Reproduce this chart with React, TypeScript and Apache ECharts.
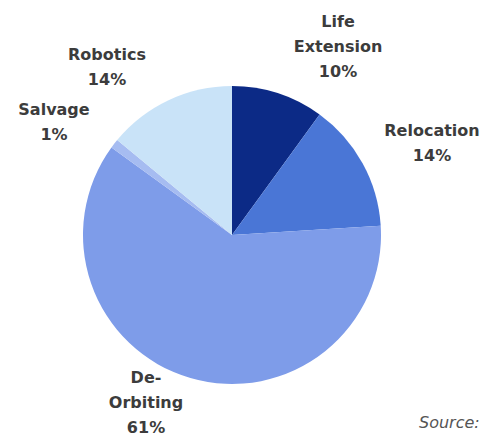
import React, { useEffect, useRef } from "react";
import * as echarts from "echarts";

const categories = ["Life Extension", "Relocation", "De-Orbiting", "Salvage", "Robotics"];
const shares = [10, 14, 61, 1, 14];
const labelLines = ["Life\nExtension\n10%", "Relocation\n14%", "De-\nOrbiting\n61%", "Salvage\n1%", "Robotics\n14%"];

// layout (label anchor centers), kept apart from the data
const labelAnchors: [number, number][] = [
  [338, 46],
  [432, 143],
  [146, 402],
  [54, 122],
  [107, 67],
];
const colors = ["#0c2a86", "#4a76d6", "#7e9ce9", "#a6bcf1", "#c9e3f8"];

export default function App() {
  const ref = useRef<HTMLDivElement>(null);
  useEffect(() => {
    if (!ref.current) return;
    const chart = echarts.init(ref.current, undefined, { renderer: "svg" });
    chart.setOption({
      animation: false,
      backgroundColor: "#ffffff",
      series: [
        {
          type: "pie",
          center: [232, 235],
          radius: 149,
          startAngle: 90,
          clockwise: true,
          avoidLabelOverlap: false,
          data: categories.map((name, i) => ({
            name,
            value: shares[i],
            itemStyle: { color: colors[i] },
            label: { formatter: labelLines[i] },
          })),
          label: {
            show: true,
            position: "outside",
            fontFamily: "DejaVu Sans",
            fontWeight: "bold",
            fontSize: 16,
            lineHeight: 25,
            color: "#3c3c3c",
            align: "center",
          },
          labelLine: { show: false },
          labelLayout: (params: any) => {
            const p = labelAnchors[params.dataIndex];
            return { x: p[0], y: p[1], align: "center", verticalAlign: "middle" };
          },
        },
      ],
      graphic: [
        {
          type: "text",
          left: 419,
          top: 414,
          style: {
            text: "Source:",
            fontFamily: "DejaVu Sans",
            fontStyle: "italic",
            fontSize: 16,
            fill: "#555555",
          },
        },
      ],
    });
    return () => chart.dispose();
  }, []);
  return (
    <div
      ref={ref}
      style={{ position: "absolute", left: 0, top: 0, width: 489, height: 436 }}
    />
  );
}
